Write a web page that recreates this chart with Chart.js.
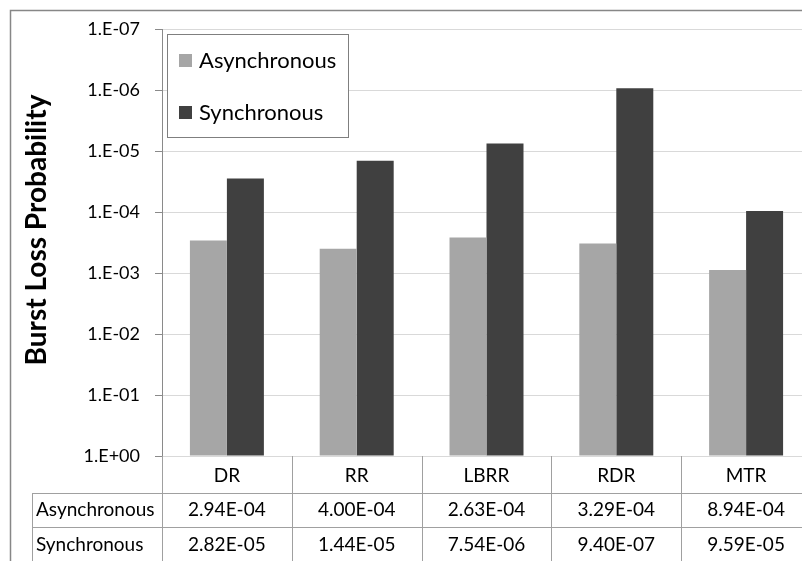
<!DOCTYPE html>
<html>
<head>
<meta charset="utf-8">
<script src="https://cdn.jsdelivr.net/npm/chart.js@4/dist/chart.umd.min.js"></script>
<style>
    html, body { margin: 0; padding: 0; background: #fff; overflow: hidden; }
    #wrap { width: 812px; height: 561px; }
</style>
</head>
<body>
<div id="wrap"><canvas id="lossChart"></canvas></div>
<script>
const categories = ['DR', 'RR', 'LBRR', 'RDR', 'MTR'];
const asyncValues = [2.94e-4, 4.00e-4, 2.63e-4, 3.29e-4, 8.94e-4];
const syncValues = [2.82e-5, 1.44e-5, 7.54e-6, 9.40e-7, 9.59e-5];
const yTickValues = [1, 1e-1, 1e-2, 1e-3, 1e-4, 1e-5, 1e-6, 1e-7];
const yTickLabels = ['1.E+00', '1.E-01', '1.E-02', '1.E-03', '1.E-04', '1.E-05', '1.E-06', '1.E-07'];

const FONT = 'Lato';
const lineColor = '#a0a0a0';

// 2.94e-4 -> 2.94E-04
function sci(v) {
    const [m, e] = v.toExponential(2).split('e');
    const n = Math.abs(parseInt(e, 10));
    return m + 'E' + (e[0] === '-' ? '-' : '+') + (n < 10 ? '0' : '') + n;
}

// frame round the whole picture
const framePlugin = {
    id: 'frame',
    beforeDraw(chart) {
        const ctx = chart.ctx;
        ctx.save();
        ctx.fillStyle = '#fff';
        ctx.fillRect(0, 0, chart.width, chart.height);
        ctx.strokeStyle = '#878787';
        ctx.lineWidth = 1.5;
        ctx.strokeRect(10.5, 10.5, chart.width + 20, chart.height + 20);
        ctx.restore();
    }
};

// data table under the plot, legend box and axis title
const extrasPlugin = {
    id: 'extras',
    afterDraw(chart) {
        const ctx = chart.ctx;
        const x = chart.scales.x;
        const area = chart.chartArea;
        const colW = x.width / categories.length;
        const rowTop = 493, rowMid = 527, bottom = chart.height;
        const tableLeft = 32;

        ctx.save();
        ctx.strokeStyle = lineColor;
        ctx.lineWidth = 1;

        ctx.beginPath();
        for (let i = 0; i <= categories.length; i++) {
            const bx = Math.round(x.getPixelForValue(i) - colW / 2) + 0.5;
            ctx.moveTo(bx, area.bottom);
            ctx.lineTo(bx, bottom);
        }
        ctx.moveTo(tableLeft + 0.5, rowTop);
        ctx.lineTo(tableLeft + 0.5, bottom);
        ctx.moveTo(tableLeft, rowTop + 0.5);
        ctx.lineTo(chart.width, rowTop + 0.5);
        ctx.moveTo(tableLeft, rowMid + 0.5);
        ctx.lineTo(chart.width, rowMid + 0.5);
        ctx.stroke();

        ctx.fillStyle = '#000';
        ctx.font = '19px ' + FONT;
        ctx.textBaseline = 'middle';
        const rows = [
            { label: chart.data.datasets[0].label, values: asyncValues, y: (rowTop + rowMid) / 2 },
            { label: chart.data.datasets[1].label, values: syncValues, y: (rowMid + bottom) / 2 + 1 }
        ];
        rows.forEach(row => {
            ctx.textAlign = 'left';
            ctx.fillText(row.label, tableLeft + 4, row.y);
            ctx.textAlign = 'center';
            row.values.forEach((v, i) => {
                ctx.fillText(sci(v), x.getPixelForValue(i), row.y);
            });
        });

        // legend
        ctx.fillStyle = '#fff';
        ctx.fillRect(167.5, 34.5, 181, 103);
        ctx.strokeStyle = '#7f7f7f';
        ctx.strokeRect(167.5, 34.5, 181, 103);
        ctx.font = '22px ' + FONT;
        ctx.textAlign = 'left';
        chart.data.datasets.forEach((ds, i) => {
            const cy = 61 + i * 52;
            ctx.fillStyle = ds.backgroundColor;
            ctx.fillRect(179, cy - 7, 13, 13);
            ctx.fillStyle = '#000';
            ctx.fillText(ds.label, 199, cy);
        });

        // axis title
        ctx.translate(37, 230);
        ctx.rotate(-Math.PI / 2);
        ctx.font = 'bold 28px ' + FONT;
        ctx.textAlign = 'center';
        ctx.fillText('Burst Loss Probability', 0, 0);
        ctx.restore();
    }
};

new Chart(document.getElementById('lossChart'), {
    type: 'bar',
    data: {
        labels: categories,
        datasets: [{
            label: 'Asynchronous',
            data: asyncValues,
            backgroundColor: '#a6a6a6',
            base: 1
        }, {
            label: 'Synchronous',
            data: syncValues,
            backgroundColor: '#404040',
            base: 1
        }]
    },
    options: {
        responsive: true,
        maintainAspectRatio: false,
        animation: false,
        layout: { padding: { top: 29, right: 1, left: 0, bottom: 0 } },
        categoryPercentage: 0.57,
        barPercentage: 1.0,
        plugins: {
            legend: { display: false },
            tooltip: { enabled: false }
        },
        scales: {
            x: {
                grid: { display: false, drawTicks: false },
                border: { display: false },
                ticks: {
                    color: '#000',
                    font: { family: FONT, size: 19 },
                    padding: 8,
                    maxRotation: 0
                },
                afterFit(scale) { scale.height = 105; }
            },
            y: {
                type: 'logarithmic',
                reverse: true,
                min: 1e-7,
                max: 1,
                afterBuildTicks(scale) {
                    scale.ticks = yTickValues.map(v => ({ value: v }));
                },
                afterFit(scale) { scale.width = 162; },
                grid: {
                    color: '#d9d9d9',
                    tickColor: '#8a8a8a',
                    tickLength: 7
                },
                border: { color: '#8a8a8a' },
                ticks: {
                    color: '#000',
                    font: { family: FONT, size: 18 },
                    padding: 15,
                    callback: (value) => yTickLabels[yTickValues.indexOf(value)]
                }
            }
        }
    },
    plugins: [framePlugin, extrasPlugin]
});
</script>
</body>
</html>
